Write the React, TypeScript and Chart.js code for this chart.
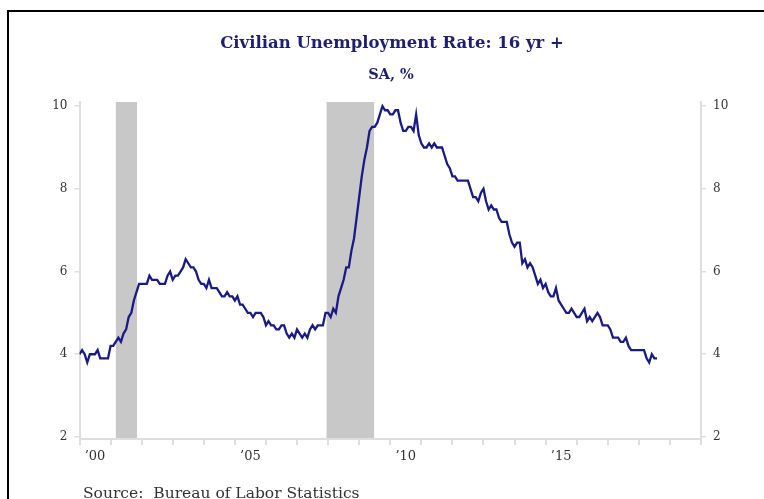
import React, { useEffect, useRef } from 'react';
import { Chart, registerables } from 'chart.js';

Chart.register(...registerables);

// Civilian unemployment rate, 16 yr +, SA, % (monthly, Jan 2000 onward)
const startYear = 2000;
const rate2000 = [4.0, 4.1, 4.0, 3.8, 4.0, 4.0, 4.0, 4.1, 3.9, 3.9, 3.9, 3.9];
const rate2001 = [4.2, 4.2, 4.3, 4.4, 4.3, 4.5, 4.6, 4.9, 5.0, 5.3, 5.5, 5.7];
const rate2002 = [5.7, 5.7, 5.7, 5.9, 5.8, 5.8, 5.8, 5.7, 5.7, 5.7, 5.9, 6.0];
const rate2003 = [5.8, 5.9, 5.9, 6.0, 6.1, 6.3, 6.2, 6.1, 6.1, 6.0, 5.8, 5.7];
const rate2004 = [5.7, 5.6, 5.8, 5.6, 5.6, 5.6, 5.5, 5.4, 5.4, 5.5, 5.4, 5.4];
const rate2005 = [5.3, 5.4, 5.2, 5.2, 5.1, 5.0, 5.0, 4.9, 5.0, 5.0, 5.0, 4.9];
const rate2006 = [4.7, 4.8, 4.7, 4.7, 4.6, 4.6, 4.7, 4.7, 4.5, 4.4, 4.5, 4.4];
const rate2007 = [4.6, 4.5, 4.4, 4.5, 4.4, 4.6, 4.7, 4.6, 4.7, 4.7, 4.7, 5.0];
const rate2008 = [5.0, 4.9, 5.1, 5.0, 5.4, 5.6, 5.8, 6.1, 6.1, 6.5, 6.8, 7.3];
const rate2009 = [7.8, 8.3, 8.7, 9.0, 9.4, 9.5, 9.5, 9.6, 9.8, 10.0, 9.9, 9.9];
const rate2010 = [9.8, 9.8, 9.9, 9.9, 9.6, 9.4, 9.4, 9.5, 9.5, 9.4, 9.8, 9.3];
const rate2011 = [9.1, 9.0, 9.0, 9.1, 9.0, 9.1, 9.0, 9.0, 9.0, 8.8, 8.6, 8.5];
const rate2012 = [8.3, 8.3, 8.2, 8.2, 8.2, 8.2, 8.2, 8.0, 7.8, 7.8, 7.7, 7.9];
const rate2013 = [8.0, 7.7, 7.5, 7.6, 7.5, 7.5, 7.3, 7.2, 7.2, 7.2, 6.9, 6.7];
const rate2014 = [6.6, 6.7, 6.7, 6.2, 6.3, 6.1, 6.2, 6.1, 5.9, 5.7, 5.8, 5.6];
const rate2015 = [5.7, 5.5, 5.4, 5.4, 5.6, 5.3, 5.2, 5.1, 5.0, 5.0, 5.1, 5.0];
const rate2016 = [4.9, 4.9, 5.0, 5.1, 4.8, 4.9, 4.8, 4.9, 5.0, 4.9, 4.7, 4.7];
const rate2017 = [4.7, 4.6, 4.4, 4.4, 4.4, 4.3, 4.3, 4.4, 4.2, 4.1, 4.1, 4.1];
const rate2018 = [4.1, 4.1, 4.1, 3.9, 3.8, 4.0, 3.9, 3.9];

const yTickValues = [2, 4, 6, 8, 10];
const xLabelYears = [2000, 2005, 2010, 2015];
const recessionStart = [2001.17, 2007.95];
const recessionEnd = [2001.85, 2009.48];

const titleText = 'Civilian Unemployment Rate: 16 yr +';
const subtitleText = 'SA, %';
const sourceText = 'Source:  Bureau of Labor Statistics';

const allRates = [
  ...rate2000, ...rate2001, ...rate2002, ...rate2003, ...rate2004, ...rate2005,
  ...rate2006, ...rate2007, ...rate2008, ...rate2009, ...rate2010, ...rate2011,
  ...rate2012, ...rate2013, ...rate2014, ...rate2015, ...rate2016, ...rate2017,
  ...rate2018,
];

const NAVY = '#1a1a84';
const AXIS = '#dedede';
const SERIF = "'DejaVu Serif', 'Liberation Serif', serif";

export default function App() {
  const ref = useRef<HTMLCanvasElement>(null);

  useEffect(() => {
    const canvas = ref.current;
    if (!canvas) return;
    const points = allRates.map((v, i) => ({ x: startYear + i / 12, y: v }));

    const overlay = {
      id: 'overlay',
      beforeDatasetsDraw(chart: any) {
        const { ctx, chartArea, scales } = chart;
        ctx.save();
        ctx.fillStyle = '#c8c8c8';
        recessionStart.forEach((s, i) => {
          const x0 = scales.x.getPixelForValue(s);
          const x1 = scales.x.getPixelForValue(recessionEnd[i]);
          ctx.fillRect(x0, chartArea.top, x1 - x0, chartArea.bottom - chartArea.top - 1);
        });
        ctx.restore();
      },
      afterDraw(chart: any) {
        const { ctx } = chart;
        ctx.save();
        ctx.fillStyle = '#1f1f70';
        ctx.textAlign = 'center';
        ctx.textBaseline = 'alphabetic';
        ctx.font = `bold 16.5px ${SERIF}`;
        ctx.fillText(titleText, 392, 48);
        ctx.font = `bold 14.5px ${SERIF}`;
        ctx.fillText(subtitleText, 391, 79);
        ctx.fillStyle = '#333333';
        ctx.textAlign = 'left';
        ctx.font = `15.5px ${SERIF}`;
        ctx.fillText(sourceText, 83, 498);
        ctx.restore();
      },
    };

    const yScale = (position: 'left' | 'right', width: number) => ({
      type: 'linear' as const,
      position,
      min: 1.95,
      max: 10.1,
      afterBuildTicks: (scale: any) => {
        scale.ticks = yTickValues.map((v) => ({ value: v }));
      },
      afterFit: (scale: any) => {
        scale.width = width;
      },
      border: { display: true, color: AXIS, width: 2 },
      grid: {
        drawOnChartArea: false,
        drawTicks: true,
        tickLength: 5,
        color: AXIS,
        lineWidth: 1.5,
      },
      ticks: {
        padding: 7,
        color: '#333333',
        font: { family: SERIF, size: 12 },
        callback: (v: any) => String(v),
      },
    });

    const chart = new Chart(canvas, {
      type: 'line',
      data: {
        datasets: [
          {
            data: points,
            borderColor: NAVY,
            borderWidth: 2.3,
            pointRadius: 0,
            tension: 0,
            fill: false,
            yAxisID: 'y',
          },
        ],
      },
      options: {
        responsive: false,
        animation: false,
        parsing: false as any,
        layout: { padding: { top: 102, left: 0, right: 0, bottom: 0 } },
        plugins: {
          legend: { display: false },
          title: { display: false },
          tooltip: { enabled: false },
        },
        scales: {
          x: {
            type: 'linear',
            position: 'bottom',
            min: 2000,
            max: 2020,
            afterFit: (scale: any) => {
              scale.height = 60;
            },
            border: { display: true, color: AXIS, width: 2 },
            grid: {
              drawOnChartArea: false,
              drawTicks: true,
              tickLength: 6,
              color: AXIS,
              lineWidth: 2,
            },
            ticks: {
              stepSize: 1,
              autoSkip: false,
              maxRotation: 0,
              labelOffset: 15.5,
              padding: 4,
              color: '#333333',
              font: { family: SERIF, size: 13 },
              callback: (v: any) =>
                xLabelYears.includes(Number(v)) ? '\u2019' + String(v).slice(2) : '',
            },
          },
          y: yScale('left', 79.5),
          y1: yScale('right', 63),
        },
      },
      plugins: [overlay],
    });

    return () => chart.destroy();
  }, []);

  return (
    <div style={{ position: 'fixed', left: 0, top: 0, width: 764, height: 499, background: '#fff', overflow: 'hidden' }}>
      <div
        style={{
          position: 'absolute',
          left: 7,
          top: 10,
          width: 800,
          height: 600,
          borderLeft: '2px solid #000',
          borderTop: '2px solid #000',
        }}
      />
      <canvas ref={ref} width={764} height={499} style={{ position: 'absolute', left: 0, top: 0 }} />
    </div>
  );
}
